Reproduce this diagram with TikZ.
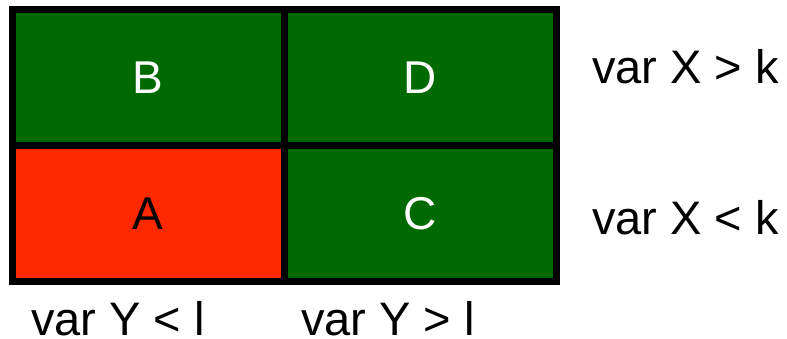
\documentclass[tikz,border=0pt]{standalone}
\usepackage{fontspec}
\setmainfont{Liberation Sans}
\definecolor{cellgreen}{RGB}{0,106,0}
\definecolor{cellred}{RGB}{255,40,0}
\begin{document}
\begin{tikzpicture}[x=1pt,y=-1pt,
  cell/.style={draw=black, line width=7pt, minimum width=272pt, minimum height=136pt,
    inner sep=0pt, outer sep=0pt, font=\fontsize{46}{54}\selectfont},
  good/.style={cell, fill=cellgreen, text=white},
  bad/.style={cell, fill=cellred, text=black},
  frame/.style={line width=7pt, line cap=rect},
  cond/.style={anchor=base west, inner sep=0pt, font=\fontsize{47}{56}\selectfont}]
  \useasboundingbox (0,0) rectangle (787,339);
  % quadrant cells
  \node[bad]  (A) at (148,213.25) {A};
  \node[good] (B) at (148,77.5)   {B};
  \node[good] (C) at (420,213.25) {C};
  \node[good] (D) at (420,77.5)   {D};
  % black frame and dividers on top of every fill
  \draw[frame] (B.north west) rectangle (C.south east);
  \draw[frame] (B.north east) -- (C.south west);
  \draw[frame] (B.south west) -- (D.south east);
  % condition labels
  \node[cond] (xhi) at (592,84)  {var X > k};
  \node[cond] (xlo) at (592,234) {var X < k};
  \node[cond] (ylo) at (31,335)  {var Y < l};
  \node[cond] (yhi) at (301,335) {var Y > l};
\end{tikzpicture}
\end{document}
